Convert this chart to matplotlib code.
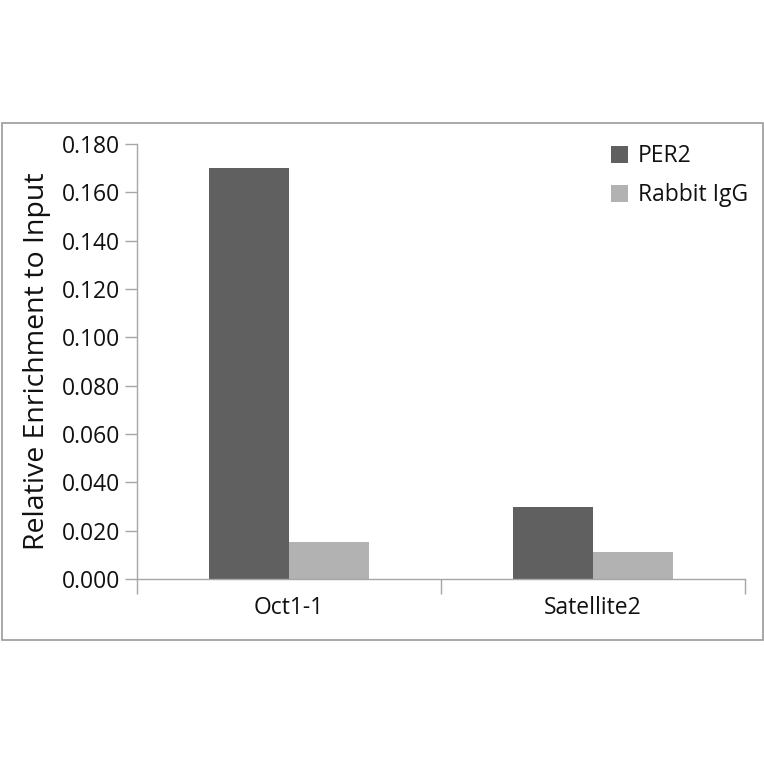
import matplotlib
matplotlib.use("Agg")
import matplotlib.pyplot as plt
import matplotlib.patches as mpatches
import numpy as np

categories = ["Oct1-1", "Satellite2"]
series_names = ["PER2", "Rabbit IgG"]
per2 = [0.170, 0.030]
rabbit_igg = [0.0154, 0.0113]
yticks = [0.000, 0.020, 0.040, 0.060, 0.080, 0.100, 0.120, 0.140, 0.160, 0.180]

plt.rcParams['font.family'] = ['Open Sans', 'DejaVu Sans']
axis_gray = '#a6a6a6'
colors = ['#606060', '#b2b2b2']

fig = plt.figure(figsize=(7.64, 7.64), dpi=100)
W = H = 764.0

# outer chart border
fig.patches.append(mpatches.Rectangle((1.5 / W, 1 - 640 / H), 761 / W, 517 / H,
                                      transform=fig.transFigure, fill=False,
                                      edgecolor='#9a9a9a', linewidth=1.2))

ax = fig.add_axes([137 / W, 1 - 579 / H, 608 / W, 435 / H])

x = np.arange(len(categories))
w = 80 / 304.0
ax.bar(x - w / 2, per2, w, color=colors[0], label=series_names[0])
ax.bar(x + w / 2, rabbit_igg, w, color=colors[1], label=series_names[1])

ax.set_xlim(-0.5, len(categories) - 0.5)
ax.set_ylim(0, 0.18)
ax.set_yticks(yticks)
ax.set_yticklabels(["%.3f" % t for t in yticks], fontsize=16.5, color='#111111')

# category labels, tick marks between categories
ax.set_xticks(np.arange(len(categories) + 1) - 0.5)
ax.set_xticklabels([])
ax.set_xticks(x, minor=True)
ax.set_xticklabels(categories, minor=True, fontsize=16.5, color='#111111')
ax.tick_params(axis='x', which='major', direction='out', length=11, color=axis_gray, width=1)
ax.tick_params(axis='x', which='minor', length=0, pad=12)
ax.tick_params(axis='y', direction='out', length=9, color=axis_gray, width=1, pad=3)

for s in ['top', 'right']:
    ax.spines[s].set_visible(False)
for s in ['left', 'bottom']:
    ax.spines[s].set_color(axis_gray)
    ax.spines[s].set_linewidth(1)

ax.set_ylabel("Relative Enrichment to Input", fontsize=20.5, color='#111111', labelpad=8)

leg = ax.legend(loc='upper left', bbox_to_anchor=(465 / 608.0, 1.020), frameon=False,
                fontsize=16.5, handlelength=0.75, handleheight=0.75, handletextpad=0.4,
                labelspacing=0.65, borderaxespad=0)
for t in leg.get_texts():
    t.set_color('#111111')

fig.savefig("out.png", dpi=100)
